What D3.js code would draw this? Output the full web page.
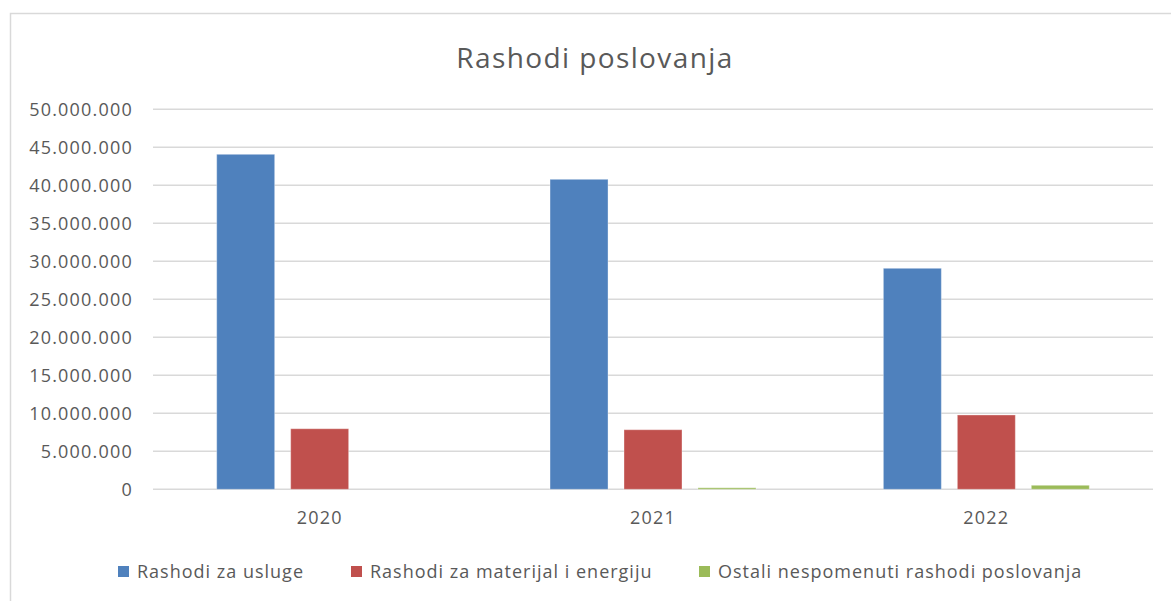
<!DOCTYPE html>
<html>
<head>
<meta charset="utf-8">
<script src="https://cdn.jsdelivr.net/npm/d3@7/dist/d3.min.js"></script>
<style>
  html, body { margin: 0; padding: 0; background: #fff; }
  svg { display: block; font-family: "Open Sans", sans-serif; }
</style>
</head>
<body>
<svg id="chart" width="1171" height="601"></svg>
<script>
// Operating expenses by year
const years = ["2020", "2021", "2022"];
const seriesNames = [
  "Rashodi za usluge",
  "Rashodi za materijal i energiju",
  "Ostali nespomenuti rashodi poslovanja"
];
const uslugeValues = [44080000, 40790000, 29080000];
const materijalValues = [7970000, 7840000, 9780000];
const ostaliValues = [0, 200000, 530000];
const yTicks = [0, 5000000, 10000000, 15000000, 20000000, 25000000, 30000000, 35000000, 40000000, 45000000, 50000000];
const colors = ["#4F81BD", "#C0504D", "#9BBB59"];

const seriesValues = [uslugeValues, materijalValues, ostaliValues];

const svg = d3.select("#chart");
const W = 1171, H = 601;
const FONT = "'Open Sans', sans-serif";

// chart area frame
svg.append("rect")
  .attr("x", 10.5).attr("y", 13.5)
  .attr("width", W + 20).attr("height", H + 20)
  .attr("fill", "#fff").attr("stroke", "#d9d9d9").attr("stroke-width", 1.5);

const plot = { left: 153, right: 1153, top: 109.3, bottom: 489.3 };

const x0 = d3.scaleBand().domain(years).range([plot.left, plot.right]).paddingInner(0).paddingOuter(0);
const x1 = d3.scaleBand().domain(d3.range(seriesNames.length))
  .range([63.7, x0.bandwidth() - 63.7]).paddingInner(16 / 74).paddingOuter(0);
const y = d3.scaleLinear().domain([0, 50000000]).range([plot.bottom, plot.top]);

const fmt = d3.formatLocale({ decimal: ",", thousands: ".", grouping: [3], currency: ["", ""] }).format(",d");

// gridlines
svg.append("g")
  .selectAll("line")
  .data(yTicks)
  .join("line")
  .attr("x1", plot.left).attr("x2", plot.right)
  .attr("y1", d => y(d)).attr("y2", d => y(d))
  .attr("stroke", "#d9d9d9").attr("stroke-width", 1.5);

// y axis labels
const yAxis = d3.axisLeft(y).tickValues(yTicks).tickFormat(fmt).tickSize(0).tickPadding(20);
const gy = svg.append("g").attr("transform", `translate(${plot.left},0)`).call(yAxis);
gy.select(".domain").remove();
gy.selectAll("text")
  .attr("fill", "#595959").attr("font-size", 18)
  .attr("letter-spacing", 1.2)
  .attr("font-family", FONT);

// bars
const groups = svg.append("g")
  .selectAll("g")
  .data(years)
  .join("g")
  .attr("transform", d => `translate(${x0(d)},0)`);

groups.selectAll("rect")
  .data((d, i) => seriesValues.map((vals, s) => ({ s, v: vals[i] })))
  .join("rect")
  .attr("x", d => x1(d.s))
  .attr("width", x1.bandwidth())
  .attr("y", d => y(d.v))
  .attr("height", d => y(0) - y(d.v))
  .attr("fill", d => colors[d.s])
  .attr("stroke", "rgba(255,255,255,0.35)")
  .attr("stroke-width", 1);

// x axis labels
const xAxis = d3.axisBottom(x0).tickSize(0).tickPadding(22);
const gx = svg.append("g").attr("transform", `translate(0,${plot.bottom})`).call(xAxis);
gx.select(".domain").remove();
gx.selectAll("text")
  .attr("fill", "#595959").attr("font-size", 18)
  .attr("letter-spacing", 1.2)
  .attr("font-family", FONT);

// title
svg.append("text")
  .attr("x", 595).attr("y", 68)
  .attr("text-anchor", "middle")
  .attr("fill", "#595959")
  .attr("font-size", 28)
  .attr("letter-spacing", 1.4)
  .text("Rashodi poslovanja");

// legend
const legendX = [118, 351, 699];
const legend = svg.append("g")
  .selectAll("g")
  .data(seriesNames)
  .join("g")
  .attr("transform", (d, i) => `translate(${legendX[i]},566)`);
legend.append("rect")
  .attr("width", 11).attr("height", 11)
  .attr("fill", (d, i) => colors[i]);
legend.append("text")
  .attr("x", 19).attr("y", 12)
  .attr("fill", "#595959")
  .attr("font-size", 18)
  .attr("letter-spacing", 1.0)
  .text(d => d);
</script>
</body>
</html>
